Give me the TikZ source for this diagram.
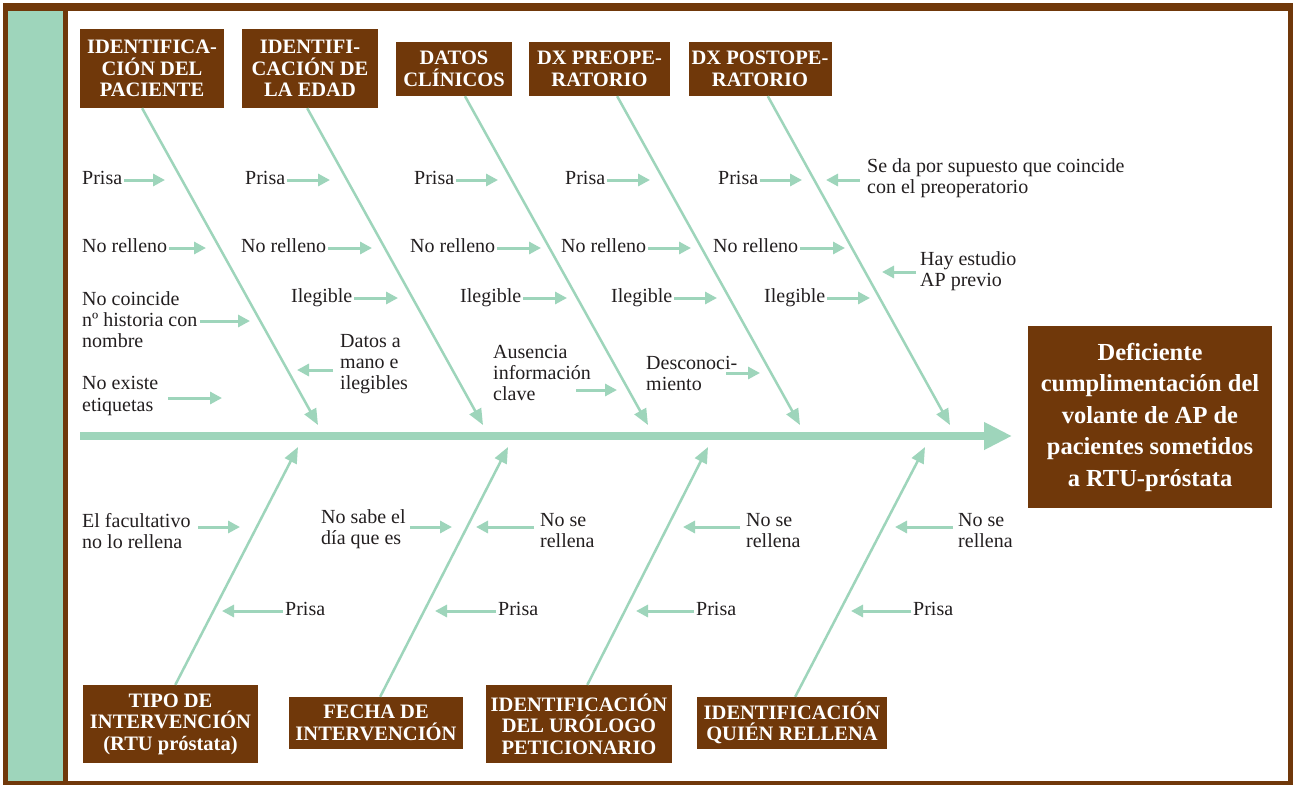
\documentclass[tikz,border=0pt]{standalone}
\usepackage{fontspec}
\setmainfont{Liberation Serif}
\usetikzlibrary{arrows.meta}
\definecolor{bark}{RGB}{112,56,10}
\definecolor{mint}{RGB}{158,213,187}
\definecolor{ink}{RGB}{35,31,32}

\begin{document}
\begin{tikzpicture}[
    x=1pt, y=-1pt,
    every node/.style={font=\fontsize{20}{21}\selectfont, text=ink},
    category/.style={
        rectangle,
        fill=bark,
        text=white,
        align=center,
        inner sep=0pt,
        font=\bfseries\fontsize{20.5}{21.5}\selectfont
    },
    effect/.style={
        rectangle,
        fill=bark,
        text=white,
        align=center,
        inner sep=0pt,
        minimum width=244pt,
        minimum height=182pt,
        font=\bfseries\fontsize{24.5}{31.5}\selectfont
    },
    cause/.style={anchor=west, inner sep=0pt, text height=13pt, text depth=4pt},
    causes/.style={anchor=west, inner sep=0pt, align=left},
    spine/.style={-{Triangle[length=28pt,width=26pt]}, line width=8pt, mint},
    bone/.style={-{Triangle[length=16pt,width=13pt]}, line width=2.5pt, mint},
    twig/.style={-{Triangle[length=12pt,width=12pt]}, line width=3pt, mint, shorten <=2pt}
]
\useasboundingbox (0,0) rectangle (1293,785);

% ============================================
% Frame
% ============================================
\fill[bark] (3,3) rectangle (1293,785);
\fill[white] (68,11) rectangle (1288,781);
\fill[mint] (8,11) rectangle (63,781);

% ============================================
% Categories and effect
% ============================================
\node[category, minimum width=144, minimum height=79] (hd1) at (152,68.5) {IDENTIFICA-\\CIÓN DEL\\PACIENTE};
\node[category, minimum width=136, minimum height=79] (hd2) at (310,68.5) {IDENTIFI-\\CACIÓN DE\\LA EDAD};
\node[category, minimum width=116, minimum height=54] (hd3) at (454,69) {DATOS\\CLÍNICOS};
\node[category, minimum width=141, minimum height=54] (hd4) at (599.5,69) {DX PREOPE-\\RATORIO};
\node[category, minimum width=143, minimum height=54] (hd5) at (760,69) {DX POSTOPE-\\RATORIO};

\node[category, minimum width=175, minimum height=78] (hd6) at (170.5,724) {TIPO DE\\INTERVENCIÓN\\(RTU próstata)};
\node[category, minimum width=174, minimum height=52] (hd7) at (376,723) {FECHA DE\\INTERVENCIÓN};
\node[category, minimum width=186, minimum height=78] (hd8) at (579,724) {IDENTIFICACIÓN\\DEL URÓLOGO\\PETICIONARIO};
\node[category, minimum width=190, minimum height=52] (hd9) at (792,723) {IDENTIFICACIÓN\\QUIÉN RELLENA};

\node[effect] (eff) at (1150,417) {Deficiente\\cumplimentación del\\volante de AP de\\pacientes sometidos\\a RTU-próstata};

% ============================================
% Spine and bones
% ============================================
\coordinate (sp0) at (80,436);
\coordinate (sp1) at (1012,436);
\draw[spine] (sp0) -- (sp1);

\coordinate (tp1) at (318,425);
\coordinate (tp2) at (483,425);
\coordinate (tp3) at (648,425);
\coordinate (tp4) at (800,425);
\coordinate (tp5) at (950,425);
\coordinate (tp6) at (298,447);
\coordinate (tp7) at (508,447);
\coordinate (tp8) at (708,447);
\coordinate (tp9) at (925,447);

\draw[bone] (hd1.256) -- (tp1);
\draw[bone] (hd2.266) -- (tp2);
\draw[bone] (hd3.292) -- (tp3);
\draw[bone] (hd4.303) -- (tp4);
\draw[bone] (hd5.286) -- (tp5);
\draw[bone] (hd6.83) -- (tp6);
\draw[bone] (hd7.81) -- (tp7);
\draw[bone] (hd8.78) -- (tp8);
\draw[bone] (hd9.83) -- (tp9);

% ============================================
% Upper causes
% ============================================
\node[cause] (pa1) at (82,180) {Prisa};
\node[cause] (pa2) at (245,180) {Prisa};
\node[cause] (pa3) at (414,180) {Prisa};
\node[cause] (pa4) at (565,180) {Prisa};
\node[cause] (pa5) at (718,180) {Prisa};
\coordinate (pa1e) at (165,180);
\coordinate (pa2e) at (330,180);
\coordinate (pa3e) at (498,180);
\coordinate (pa4e) at (650,180);
\coordinate (pa5e) at (802,180);
\draw[twig] (pa1.east) -- (pa1e);
\draw[twig] (pa2.east) -- (pa2e);
\draw[twig] (pa3.east) -- (pa3e);
\draw[twig] (pa4.east) -- (pa4e);
\draw[twig] (pa5.east) -- (pa5e);

\node[cause] (nr1) at (82,248) {No relleno};
\node[cause] (nr2) at (241,248) {No relleno};
\node[cause] (nr3) at (410,248) {No relleno};
\node[cause] (nr4) at (561,248) {No relleno};
\node[cause] (nr5) at (713,248) {No relleno};
\coordinate (nr1e) at (206,248);
\coordinate (nr2e) at (372,248);
\coordinate (nr3e) at (541,248);
\coordinate (nr4e) at (691,248);
\coordinate (nr5e) at (845,248);
\draw[twig] (nr1.east) -- (nr1e);
\draw[twig] (nr2.east) -- (nr2e);
\draw[twig] (nr3.east) -- (nr3e);
\draw[twig] (nr4.east) -- (nr4e);
\draw[twig] (nr5.east) -- (nr5e);

\node[cause] (il2) at (291,298) {Ilegible};
\node[cause] (il3) at (460,298) {Ilegible};
\node[cause] (il4) at (611,298) {Ilegible};
\node[cause] (il5) at (764,298) {Ilegible};
\coordinate (il2e) at (398,298);
\coordinate (il3e) at (567,298);
\coordinate (il4e) at (717,298);
\coordinate (il5e) at (870,298);
\draw[twig] (il2.east) -- (il2e);
\draw[twig] (il3.east) -- (il3e);
\draw[twig] (il4.east) -- (il4e);
\draw[twig] (il5.east) -- (il5e);

\node[causes] (sup) at (867,178) {Se da por supuesto que coincide\\con el preoperatorio};
\coordinate (sups) at (862,180);
\coordinate (supe) at (826,180);
\draw[twig] (sups) -- (supe);

\node[causes] (hay) at (920,271) {Hay estudio\\AP previo};
\coordinate (hays) at (918,272);
\coordinate (haye) at (882,272);
\draw[twig] (hays) -- (haye);

\node[causes] (nco) at (82,320) {No coincide\\nº historia con\\nombre};
\coordinate (ncos) at (198,321);
\coordinate (ncoe) at (250,321);
\draw[twig] (ncos) -- (ncoe);

\node[causes] (net) at (82,396) {No existe\\etiquetas};
\coordinate (nets) at (166,398);
\coordinate (nete) at (222,398);
\draw[twig] (nets) -- (nete);

\node[causes] (dam) at (340,364) {Datos a\\mano e\\ilegibles};
\coordinate (dams) at (335,370);
\coordinate (dame) at (297,370);
\draw[twig] (dams) -- (dame);

\node[causes] (aus) at (493,373) {Ausencia\\información\\clave};
\coordinate (auss) at (574,390);
\coordinate (ause) at (617,390);
\draw[twig] (auss) -- (ause);

\node[causes] (des) at (646,373) {Desconoci-\\miento};
\coordinate (dess) at (724,373);
\coordinate (dese) at (760,373);
\draw[twig] (dess) -- (dese);

% ============================================
% Lower causes
% ============================================
\node[causes] (fac) at (82,531) {El facultativo\\no lo rellena};
\coordinate (facs) at (196,527);
\coordinate (face) at (240,527);
\draw[twig] (facs) -- (face);

\node[causes] (dia) at (321,529) {No sabe el\\día que es};
\coordinate (dias) at (408,527);
\coordinate (diae) at (452,527);
\draw[twig] (dias) -- (diae);

\node[causes] (nsr1) at (540,531) {No se\\rellena};
\node[causes] (nsr2) at (746,531) {No se\\rellena};
\node[causes] (nsr3) at (958,531) {No se\\rellena};
\coordinate (nsr1s) at (536,527);
\coordinate (nsr1e) at (476,527);
\coordinate (nsr2s) at (742,527);
\coordinate (nsr2e) at (683,527);
\coordinate (nsr3s) at (955,527);
\coordinate (nsr3e) at (895,527);
\draw[twig] (nsr1s) -- (nsr1e);
\draw[twig] (nsr2s) -- (nsr2e);
\draw[twig] (nsr3s) -- (nsr3e);

\node[cause] (pb1) at (285,611) {Prisa};
\node[cause] (pb2) at (498,611) {Prisa};
\node[cause] (pb3) at (696,611) {Prisa};
\node[cause] (pb4) at (913,611) {Prisa};
\coordinate (pb1e) at (222,611);
\coordinate (pb2e) at (435,611);
\coordinate (pb3e) at (636,611);
\coordinate (pb4e) at (851,611);
\draw[twig] (pb1.west) -- (pb1e);
\draw[twig] (pb2.west) -- (pb2e);
\draw[twig] (pb3.west) -- (pb3e);
\draw[twig] (pb4.west) -- (pb4e);

\end{tikzpicture}
\end{document}
